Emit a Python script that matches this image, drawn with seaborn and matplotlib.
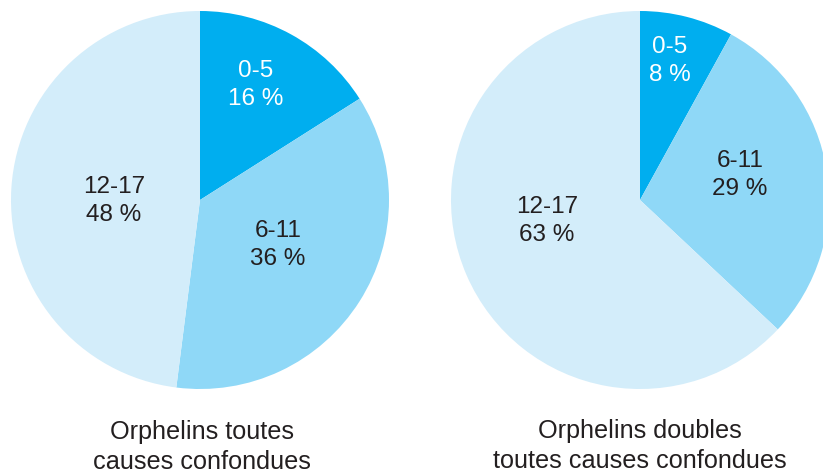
import matplotlib
matplotlib.use("Agg")
import matplotlib.pyplot as plt
import seaborn as sns

# Age groups and shares of orphans (percent)
age_groups = ["0-5", "6-11", "12-17"]
all_causes = [16, 36, 48]
double_orphans = [8, 29, 63]
titles = ["Orphelins toutes\ncauses confondues",
          "Orphelins doubles\ntoutes causes confondues"]

sns.set_theme(style="white")
plt.rcParams["font.family"] = ["Liberation Sans", "DejaVu Sans"]

palette = sns.color_palette(["#00AEEF", "#8FD8F7", "#D3EDFA"])
text_colors = ["white", "#231F20", "#231F20"]

W, H = 823, 470
fig = plt.figure(figsize=(W / 100, H / 100), dpi=100)
ax = fig.add_axes([0, 0, 1, 1])
ax.set_xlim(0, W)
ax.set_ylim(0, H)
ax.set_aspect("equal")
ax.axis("off")

radius = 189
centers = [(200, H - 200), (640, H - 200)]
# label anchor points (pixel offsets from the pie centre, y pointing up)
label_offsets = [
    [(56, 115), (78, -45), (-86, -1)],
    [(30, 139), (100, 25), (-93, -21)],
]
title_pos = [(202, H - 447), (640, H - 446)]

for values, center, offsets, title, tpos in zip(
        [all_causes, double_orphans], centers, label_offsets, titles, title_pos):
    ax.pie(values, colors=palette, startangle=90, counterclock=False,
           center=center, radius=radius, frame=True,
           wedgeprops=dict(linewidth=0))
    for grp, val, (dx, dy), tc in zip(age_groups, values, offsets, text_colors):
        ax.text(center[0] + dx, center[1] + dy, f"{grp}\n{val} %",
                ha="center", va="center", fontsize=17.5, color=tc,
                linespacing=1.4)
    ax.text(tpos[0], tpos[1], title, ha="center", va="center",
            fontsize=18.2, color="#231F20", linespacing=1.3)

ax.set_xlim(0, W)
ax.set_ylim(0, H)
ax.axis("off")
fig.savefig("out.png", dpi=100, facecolor="white")
